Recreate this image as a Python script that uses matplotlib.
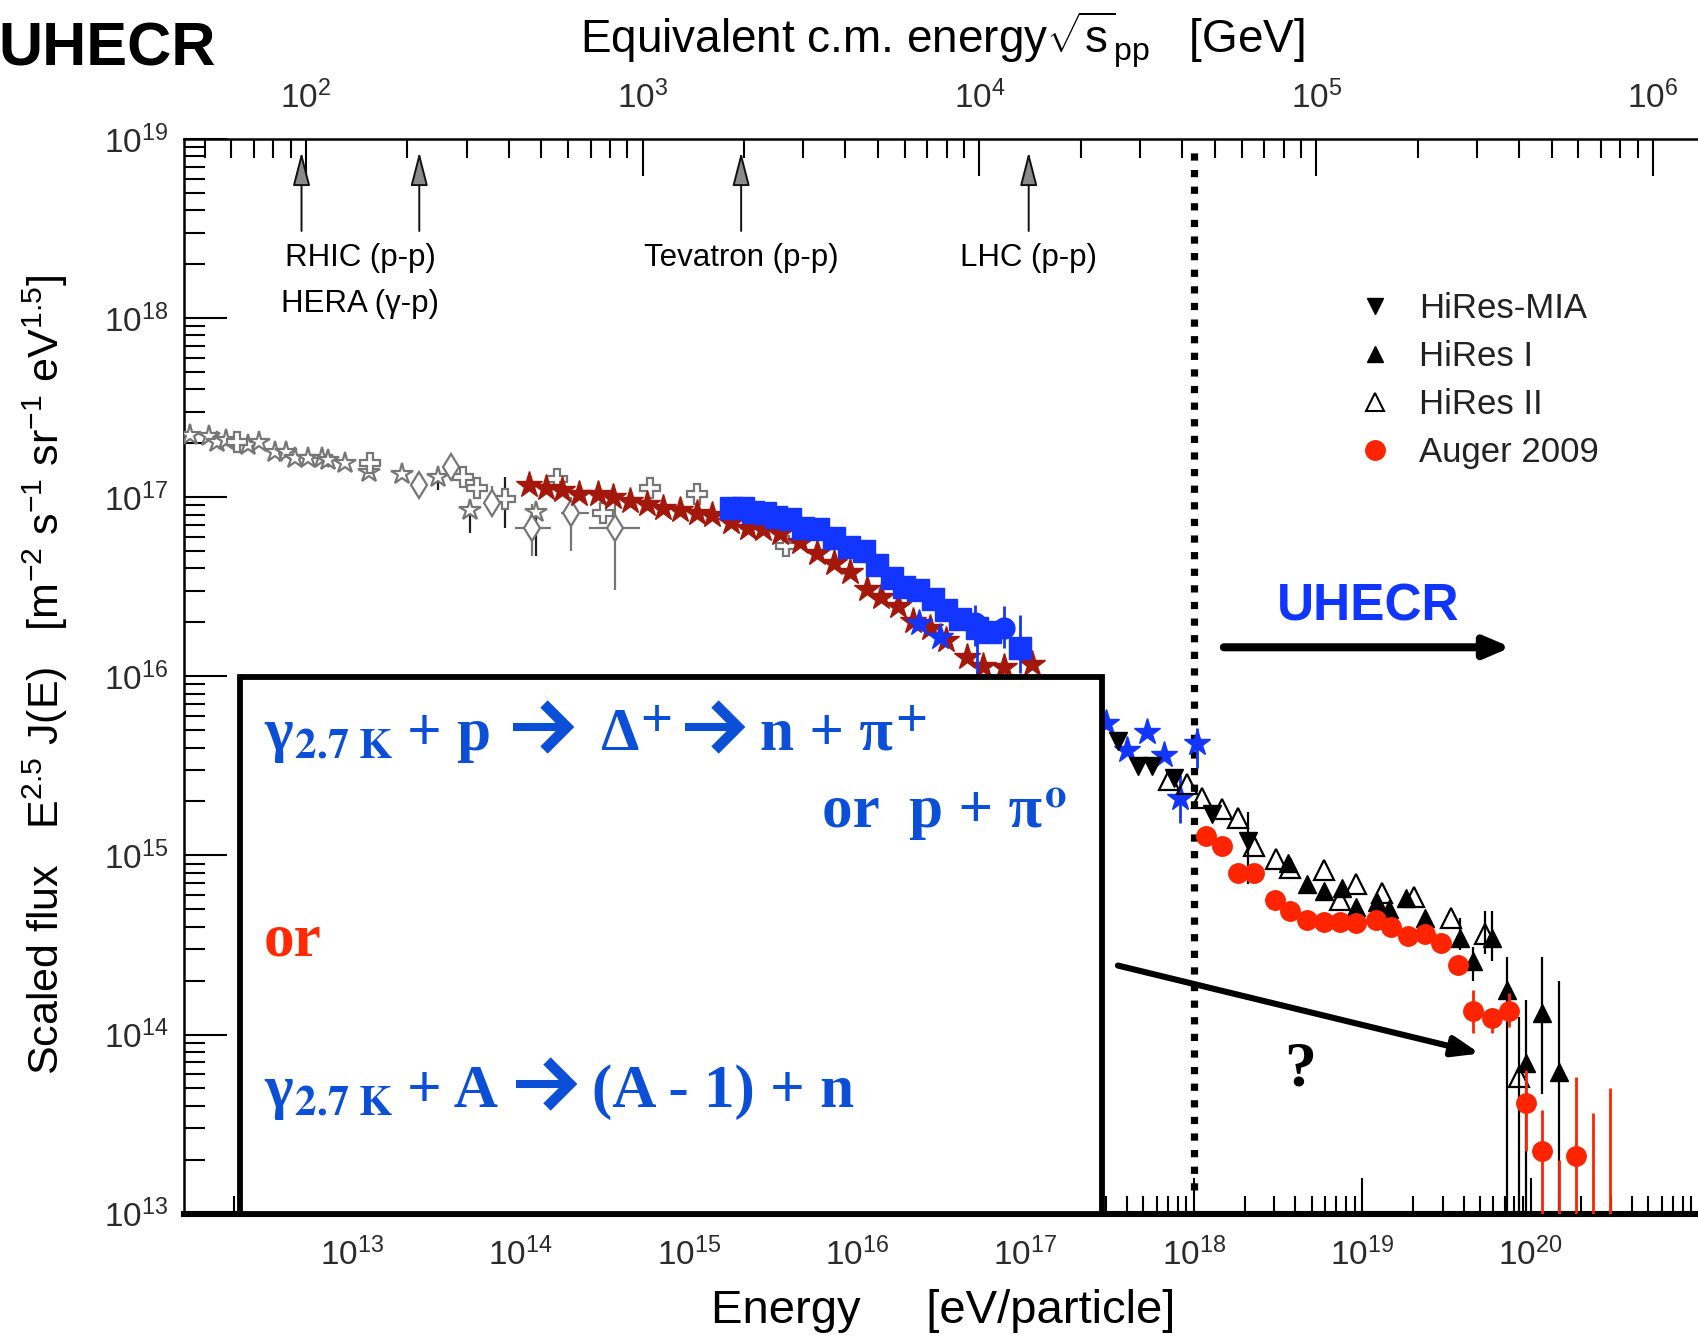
import numpy as np
import matplotlib
matplotlib.use("Agg")
import matplotlib.pyplot as plt
import matplotlib.ticker as mticker
from matplotlib.lines import Line2D
from matplotlib.patches import Rectangle

plt.rcParams['font.family'] = ['Liberation Sans', 'DejaVu Sans']
plt.rcParams['mathtext.fontset'] = 'custom'
plt.rcParams['mathtext.rm'] = 'Liberation Sans'
plt.rcParams['mathtext.it'] = 'Liberation Sans:italic'
plt.rcParams['mathtext.bf'] = 'Liberation Sans:bold'
plt.rcParams['mathtext.sf'] = 'Liberation Sans'

M_P = 0.938  # proton mass [GeV]

# ---------------- data: log10(E / eV) and log10(E^2.5 J(E)) ----------------
# direct measurements, grey open stars
gstar_lgE = [12.04, 12.15, 12.20, 12.25, 12.38, 12.45, 12.54, 12.61, 12.66, 12.74,
             12.82, 12.86, 12.96, 13.10, 13.30, 13.51, 13.70, 14.09]
gstar_lgF = [17.35, 17.34, 17.31, 17.32, 17.29, 17.31, 17.25, 17.25, 17.22, 17.22,
             17.22, 17.21, 17.19, 17.14, 17.13, 17.11, 16.93, 16.92]
gstar_bar_lgE = [13.51, 13.70, 14.09]
gstar_bar_lo = [17.04, 16.80, 16.67]
gstar_bar_hi = [17.11, 16.98, 16.92]

# grey open crosses
gcross_lgE = [12.32, 13.11, 13.66, 13.74, 13.91, 14.22, 14.49, 14.77, 15.05, 15.58]
gcross_lgF = [17.31, 17.19, 17.11, 17.05, 16.99, 17.10, 16.91, 17.05, 17.02, 16.73]
gcross_bar_lgE = [13.91]
gcross_bar_lo = [16.83]
gcross_bar_hi = [17.11]

# grey open diamonds
gdiam_lgE = [13.40, 13.59, 13.83, 14.07, 14.30, 14.56]
gdiam_lgF = [17.07, 17.17, 16.97, 16.83, 16.91, 16.83]
gdiam_lo = [17.07, 17.17, 16.89, 16.67, 16.70, 16.48]
gdiam_hi = [17.07, 17.17, 17.06, 16.96, 17.00, 17.00]
gdiam_xlo = [13.40, 13.59, 13.83, 13.97, 14.24, 14.41]
gdiam_xhi = [13.40, 13.59, 13.83, 14.18, 14.41, 14.71]

# dark red stars
rstar_lgE = [14.05, 14.15, 14.25, 14.35, 14.46, 14.55, 14.65, 14.75, 14.85, 14.95,
             15.05, 15.14, 15.25, 15.35, 15.44, 15.54, 15.66, 15.76, 15.86, 15.96,
             16.06, 16.14, 16.24, 16.33, 16.43, 16.53, 16.65, 16.75, 16.87, 17.04]
rstar_lgF = [17.07, 17.05, 17.04, 17.02, 17.02, 17.00, 16.98, 16.96, 16.94, 16.93,
             16.91, 16.90, 16.86, 16.83, 16.82, 16.80, 16.75, 16.69, 16.63, 16.58,
             16.49, 16.44, 16.39, 16.31, 16.27, 16.20, 16.11, 16.06, 16.05, 16.07]

# blue squares
bsq_lgE = [15.25, 15.32, 15.38, 15.45, 15.52, 15.60, 15.68, 15.77, 15.86, 15.95,
           16.04, 16.12, 16.21, 16.28, 16.36, 16.45, 16.53, 16.61, 16.71, 16.79, 16.97]
bsq_lgF = [16.94, 16.94, 16.92, 16.91, 16.89, 16.88, 16.83, 16.82, 16.77, 16.72,
           16.70, 16.62, 16.55, 16.50, 16.48, 16.43, 16.37, 16.32, 16.27, 16.25, 16.16]
bsq_bar_lgE = [16.45, 16.53, 16.61, 16.71, 16.97]
bsq_bar_lo = [16.40, 16.33, 16.27, 16.02, 16.02]
bsq_bar_hi = [16.47, 16.41, 16.36, 16.31, 16.34]

# blue circles
bcirc_lgE = [16.70, 16.87]
bcirc_lgF = [16.30, 16.27]
bcirc_lo = [16.17, 16.16]
bcirc_hi = [16.40, 16.39]

# blue stars
bstar_lgE = [16.37, 16.49, 17.48, 17.60, 17.72, 17.82, 17.92, 18.02]
bstar_lgF = [16.30, 16.22, 15.74, 15.59, 15.69, 15.56, 15.32, 15.63]
bstar_bar_lgE = [17.92, 18.02]
bstar_bar_lo = [15.18, 15.49]
bstar_bar_hi = [15.45, 15.71]

# HiRes-MIA
mia_lgE = [17.55, 17.67, 17.75, 17.88, 18.11, 18.32]
mia_lgF = [15.64, 15.50, 15.50, 15.43, 15.23, 15.08]
mia_bar_lgE = [18.32]
mia_bar_lo = [14.84]
mia_bar_hi = [15.24]

# HiRes II (monocular)
hr2_lgE = [17.85, 17.96, 18.05, 18.17, 18.26, 18.36, 18.49, 18.57, 18.77, 18.87,
           18.96, 19.12, 19.31, 19.53, 19.73, 19.93]
hr2_lgF = [15.42, 15.40, 15.32, 15.26, 15.21, 15.05, 14.98, 14.93, 14.92, 14.75,
           14.84, 14.79, 14.77, 14.65, 14.56, 13.76]
hr2_bar_lgE = [19.73, 19.93]
hr2_bar_lo = [14.45, 12.90]
hr2_bar_hi = [14.69, 14.10]

# HiRes I (monocular)
hr1_lgE = [18.56, 18.67, 18.77, 18.88, 18.96, 19.09, 19.16, 19.26, 19.37, 19.58,
           19.66, 19.77, 19.86, 19.97, 20.07, 20.17]
hr1_lgF = [14.96, 14.84, 14.80, 14.82, 14.71, 14.74, 14.70, 14.76, 14.65, 14.54,
           14.41, 14.54, 14.25, 13.84, 14.12, 13.79]
hr1_bar_lgE = [19.58, 19.66, 19.77, 19.86, 19.97, 20.07, 20.17]
hr1_bar_lo = [14.47, 14.30, 14.41, 12.90, 12.90, 13.67, 12.90]
hr1_bar_hi = [14.65, 14.49, 14.69, 14.43, 14.19, 14.43, 14.30]

# Auger 2009
aug_lgE = [18.07, 18.17, 18.26, 18.36, 18.48, 18.57, 18.67, 18.77, 18.87, 18.96,
           19.08, 19.17, 19.27, 19.37, 19.47, 19.57, 19.66, 19.77, 19.87, 19.97,
           20.07, 20.27]
aug_lgF = [15.11, 15.05, 14.90, 14.90, 14.75, 14.69, 14.64, 14.63, 14.63, 14.62,
           14.64, 14.60, 14.55, 14.56, 14.51, 14.39, 14.13, 14.09, 14.13, 13.62,
           13.35, 13.32]
aug_bar_lgE = [19.66, 19.77, 19.87, 19.97, 20.07, 20.27]
aug_bar_lo = [14.01, 14.01, 14.04, 13.35, 12.90, 12.90]
aug_bar_hi = [14.25, 14.15, 14.23, 13.80, 13.58, 13.76]
# Auger upper limits (bars only)
aug_ul_lgE = [20.17, 20.37, 20.47]
aug_ul_hi = [13.30, 13.56, 13.70]

# accelerators: sqrt(s) in GeV
acc_names = ['RHIC (p-p)', 'HERA (γ-p)', 'Tevatron (p-p)', 'LHC (p-p)']
acc_sqrts = [97.0, 217.0, 1960.0, 14000.0]
uhecr_threshold = 1e18  # eV

# ---------------- figure ----------------
W, H = 1699, 1337
fig = plt.figure(figsize=(W / 100, H / 100), dpi=100)


def fx(px):
    return px / W


def fy(py):
    return 1 - py / H


ax = fig.add_axes([fx(183.6), fy(1213.6), 1 - fx(183.6), fy(139) - fy(1213.6)])
ax.set_xscale('log')
ax.set_yscale('log')
ax.set_xlim(1e12, 1e21)
ax.set_ylim(1e13, 1e19)


def p10(v):
    return 10 ** np.asarray(v, float)


def vbars(lgE, lo, hi, color, lw=1.5, z=2):
    ax.vlines(p10(lgE), p10(lo), p10(hi), colors=color, linewidth=lw, zorder=z)


GREY = '#767676'
RED_D = '#a3180a'
BLUE = '#1236ff'
AUG = '#ff2400'

# grey direct data
vbars(gstar_bar_lgE, gstar_bar_lo, gstar_bar_hi, '#202020', 1.6)
vbars(gcross_bar_lgE, gcross_bar_lo, gcross_bar_hi, '#202020', 1.6)
vbars(gdiam_lgE, gdiam_lo, gdiam_hi, GREY, 1.6)
ax.hlines(p10(gdiam_lgF), p10(gdiam_xlo), p10(gdiam_xhi), colors=GREY, linewidth=1.6, zorder=2)
ax.plot(p10(gstar_lgE), p10(gstar_lgF), ls='none', marker='*', ms=16, mfc='white',
        mec=GREY, mew=1.6, zorder=3)
ax.plot(p10(gcross_lgE), p10(gcross_lgF), ls='none', marker='P', ms=15, mfc='white',
        mec=GREY, mew=1.6, zorder=3)
ax.plot(p10(gdiam_lgE), p10(gdiam_lgF), ls='none', marker='d', ms=13, mfc='white',
        mec=GREY, mew=1.6, zorder=3)

# red stars and blue data
ax.plot(p10(rstar_lgE), p10(rstar_lgF), ls='none', marker='*', ms=20, color=RED_D,
        mec=RED_D, zorder=4)
vbars(bsq_bar_lgE, bsq_bar_lo, bsq_bar_hi, BLUE, 2.0, 4)
ax.plot(p10(bsq_lgE), p10(bsq_lgF), ls='none', marker='s', ms=16, color=BLUE, zorder=5)
vbars(bcirc_lgE, bcirc_lo, bcirc_hi, BLUE, 2.0, 4)
ax.plot(p10(bcirc_lgE), p10(bcirc_lgF), ls='none', marker='o', ms=15, color=BLUE, zorder=5)
vbars(bstar_bar_lgE, bstar_bar_lo, bstar_bar_hi, BLUE, 2.0, 5)
ax.plot(p10(bstar_lgE), p10(bstar_lgF), ls='none', marker='*', ms=20, color=BLUE, zorder=6)

# HiRes and Auger
vbars(mia_bar_lgE, mia_bar_lo, mia_bar_hi, 'black', 1.6, 5)
vbars(hr2_bar_lgE, hr2_bar_lo, hr2_bar_hi, 'black', 1.6, 5)
vbars(hr1_bar_lgE, hr1_bar_lo, hr1_bar_hi, 'black', 1.6, 5)
ax.plot(p10(hr2_lgE), p10(hr2_lgF), ls='none', marker='^', ms=14, mfc='none',
        mec='black', mew=1.6, zorder=6)
ax.plot(p10(mia_lgE), p10(mia_lgF), ls='none', marker='v', ms=13, color='black', zorder=6)
ax.plot(p10(hr1_lgE), p10(hr1_lgF), ls='none', marker='^', ms=13, color='black', zorder=6)
vbars(aug_bar_lgE, aug_bar_lo, aug_bar_hi, AUG, 2.0, 6)
vbars(aug_ul_lgE, [12.9] * len(aug_ul_lgE), aug_ul_hi, AUG, 2.0, 6)
ax.plot(p10(aug_lgE), p10(aug_lgF), ls='none', marker='o', ms=14, color=AUG, zorder=7)

# ankle / UHECR threshold
ax.axvline(uhecr_threshold, ymin=0.022, ymax=0.9925, color='black', lw=5.2,
           ls=(0, (1.0, 1.3)), dash_capstyle='butt', zorder=3)

# ---------------- axes styling ----------------
for side in ('right', 'top'):
    ax.spines[side].set_visible(False)
ax.spines['left'].set_linewidth(1.8)
ax.spines['bottom'].set_linewidth(4.4)

TICKC = '#2b2b2b'
ax.tick_params(axis='y', which='major', direction='in', length=31, width=1.5,
               labelsize=24, pad=11, labelcolor=TICKC)
ax.tick_params(axis='y', which='minor', direction='in', length=15, width=1.5)
ax.tick_params(axis='x', which='major', direction='in', length=26, width=1.5,
               labelsize=24, pad=17, labelcolor=TICKC)
ax.tick_params(axis='x', which='minor', direction='in', length=13, width=1.5)
ax.yaxis.set_major_locator(mticker.FixedLocator(p10(np.arange(13, 20))))
ax.yaxis.set_minor_locator(mticker.LogLocator(base=10, subs=np.arange(2, 10), numticks=20))
ax.xaxis.set_major_locator(mticker.FixedLocator(p10(np.arange(13, 21))))
ax.xaxis.set_minor_locator(mticker.LogLocator(base=10, subs=np.arange(2, 10), numticks=20))
ax.xaxis.set_major_formatter(mticker.LogFormatterSciNotation())
ax.yaxis.set_major_formatter(mticker.LogFormatterSciNotation())
ax.xaxis.set_minor_formatter(mticker.NullFormatter())
ax.yaxis.set_minor_formatter(mticker.NullFormatter())


def to_sqrts(E):
    E = np.clip(np.asarray(E, float), 1e-30, None)
    return np.sqrt(2 * M_P * E * 1e-9)


def to_energy(s):
    s = np.asarray(s, float)
    return s ** 2 / (2 * M_P) * 1e9


sec = ax.secondary_xaxis('top', functions=(to_sqrts, to_energy))
sec.spines['top'].set_linewidth(1.8)
sec.xaxis.set_major_locator(mticker.FixedLocator(p10(np.arange(2, 7))))
sec.xaxis.set_major_formatter(mticker.LogFormatterSciNotation())
sec.xaxis.set_minor_locator(mticker.LogLocator(base=10, subs=np.arange(2, 10), numticks=20))
sec.xaxis.set_minor_formatter(mticker.NullFormatter())
sec.tick_params(which='major', direction='in', length=26.5, width=1.5, labelsize=24,
                pad=17, labelcolor=TICKC)
sec.tick_params(which='minor', direction='in', length=14, width=1.5)

# accelerator arrows and labels
xt = ax.get_xaxis_transform()
acc_E = to_energy(acc_sqrts)
for E in acc_E:
    ax.annotate('', xy=(E, 0.9879), xycoords=xt, xytext=(E, 0.9144), textcoords=xt,
                arrowprops=dict(arrowstyle='-|>,head_length=1.05,head_width=0.27',
                                mutation_scale=20, fc='#8a8a8a', ec='#111111', lw=1.4,
                                shrinkA=0, shrinkB=0), zorder=3)
mid_rh = np.sqrt(acc_E[0] * acc_E[1])
ax.text(mid_rh, 0.8897, acc_names[0], transform=xt, ha='center', va='center', fontsize=22.5)
ax.text(mid_rh, 0.8465, acc_names[1], transform=xt, ha='center', va='center', fontsize=22.5)
ax.text(acc_E[2], 0.8897, acc_names[2], transform=xt, ha='center', va='center', fontsize=22.5)
ax.text(acc_E[3], 0.8897, acc_names[3], transform=xt, ha='center', va='center', fontsize=22.5)

# UHECR label and arrow
ax.text(10 ** 19.033, 10 ** 16.385, 'UHECR', color='#0f35ff', fontsize=37,
        fontweight='bold', ha='center', va='center', zorder=8)
ax.annotate('', xy=(10 ** 19.883, 10 ** 16.162), xytext=(10 ** 18.178, 10 ** 16.162),
            arrowprops=dict(arrowstyle='-|>,head_length=0.75,head_width=0.32',
                            mutation_scale=20, lw=5.8, color='black',
                            shrinkA=0, shrinkB=0), zorder=8)

# GZK suppression arrow
ax.annotate('', xy=(10 ** 19.699, 10 ** 13.894), xytext=(10 ** 17.549, 10 ** 14.385),
            arrowprops=dict(arrowstyle='-|>,head_length=0.8,head_width=0.3',
                            mutation_scale=20, lw=4.4, color='black',
                            shrinkA=0, shrinkB=0), zorder=8)
ax.text(10 ** 18.63, 10 ** 13.80, '?', fontsize=46, fontweight='bold',
        family=['Liberation Serif', 'DejaVu Serif'], ha='center', va='center', zorder=8)

# legend
handles = [
    Line2D([], [], ls='none', marker='v', ms=12, color='black'),
    Line2D([], [], ls='none', marker='^', ms=12, color='black'),
    Line2D([], [], ls='none', marker='^', ms=13, mfc='none', mec='black', mew=1.5),
    Line2D([], [], ls='none', marker='o', ms=14, color=AUG),
]
leg = ax.legend(handles, ['HiRes-MIA', 'HiRes I', 'HiRes II', 'Auger 2009'],
                loc='upper left', bbox_to_anchor=(fx(1358), fy(292)),
                bbox_transform=fig.transFigure, frameon=False, fontsize=25,
                handlelength=1.0, handletextpad=0.77, labelspacing=0.43,
                borderpad=0, borderaxespad=0)
for t in leg.get_texts():
    t.set_color('#222222')

# axis titles
fig.text(fx(942), fy(40), r'Equivalent c.m. energy$\sqrt{\mathrm{s}}_{\mathrm{pp}}$   [GeV]',
         ha='center', va='center', fontsize=33)
fig.text(fx(943), fy(1311), 'Energy     [eV/particle]', ha='center', va='center', fontsize=34)
fig.text(fx(45), fy(675),
         r'Scaled flux   E$^{2.5}$ J(E)   [m$^{-2}$ s$^{-1}$ sr$^{-1}$ eV$^{1.5}$]',
         ha='center', va='center', rotation=90, fontsize=31)
fig.text(fx(-2), fy(50), 'UHECR', ha='left', va='center', fontsize=44, fontweight='bold')

# ---------------- reaction box ----------------
box = Rectangle((fx(240), fy(1213.6)), fx(1102) - fx(240), fy(677) - fy(1213.6),
                transform=fig.transFigure, fc='white', ec='black', lw=4.2, zorder=5)
fig.add_artist(box)

BOXBLUE = '#0b4fd6'
BOXRED = '#ff2a00'
renderer = fig.canvas.get_renderer()
txt_kw = dict(fontsize=44, fontweight='bold', family=['Liberation Serif', 'DejaVu Serif'],
              va='baseline', ha='left', zorder=6)
scr_kw = dict(fontsize=44, math_fontfamily='stix', va='baseline', ha='left', zorder=6)


def put(x_px, base_px, s, color=BOXBLUE, script=False):
    """Place a text piece; return its right edge in pixels."""
    kw = scr_kw if script else txt_kw
    t = fig.text(fx(x_px), fy(base_px), s, color=color, **kw)
    bb = t.get_window_extent(renderer)
    return bb.x1


def chevron(x0, x1, yc):
    """Heavy reaction arrow drawn between x0 and x1 at height yc (pixels)."""
    hh = 23
    fig.add_artist(Line2D([fx(x0), fx(x1 - 6)], [fy(yc), fy(yc)], transform=fig.transFigure,
                          color=BOXBLUE, lw=5.8, solid_capstyle='butt', zorder=6))
    fig.add_artist(Line2D([fx(x1 - 23), fx(x1), fx(x1 - 23)],
                          [fy(yc - hh), fy(yc), fy(yc + hh)], transform=fig.transFigure,
                          color=BOXBLUE, lw=7.5, solid_joinstyle='miter',
                          solid_capstyle='butt', zorder=6))


SUB = r'${}_{\mathbf{2.7\ K}}$'
# line 1: photo-pion production
b1 = 750
e = put(264, b1, 'γ')
put(e + 1, b1, SUB, script=True)
put(407, b1, '+ p')
chevron(513, 567, b1 - 23)
e = put(600, b1, 'Δ')
put(e + 2, b1, r'${}^{\mathbf{+}}$', script=True)
chevron(685, 738, b1 - 23)
e = put(760, b1, 'n + π')
put(e + 2, b1, r'${}^{\mathbf{+}}$', script=True)
# line 2
b2 = 827
e = put(822, b2, 'or  p + π')
put(e + 2, b2, r'${}^{\mathbf{o}}$', script=True)
# alternative
put(264, 956, 'or', color=BOXRED)
# line 3: photo-disintegration
b3 = 1107
e = put(264, b3, 'γ')
put(e + 1, b3, SUB, script=True)
put(407, b3, '+ A')
chevron(516, 570, b3 - 23)
put(592, b3, '(A - 1) + n')

fig.savefig('out.png', dpi=100)
